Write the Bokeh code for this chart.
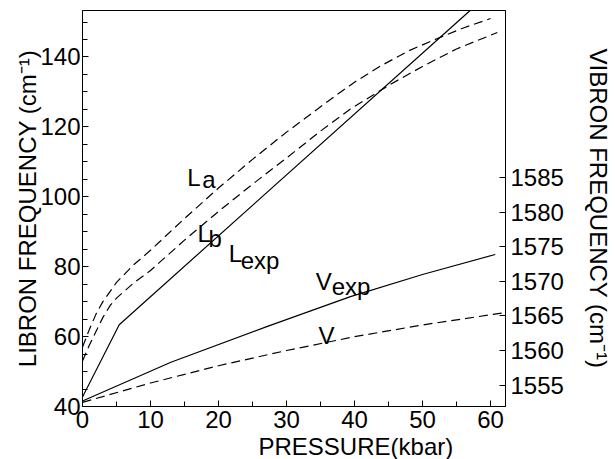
from bokeh.plotting import figure
from bokeh.models import Range1d, LinearAxis, FixedTicker, SingleIntervalTicker, Title
from bokeh.embed import file_html
from bokeh.resources import INLINE
from bokeh.core.properties import value

# ---- data ----
x_ticks = [0, 10, 20, 30, 40, 50, 60]
libron_ticks = [40, 60, 80, 100, 120, 140]
vibron_ticks = [1555, 1560, 1565, 1570, 1575, 1580, 1585]

lexp_p = [0.0, 5.4, 57.0]
lexp_f = [42.7, 63.4, 153.3]

la_p = [0, 1, 2, 3, 5, 7.5, 10, 15, 20, 25, 30, 36, 40, 43.8, 48, 52.2, 56, 60]
la_f = [57, 62, 66.5, 70, 75.5, 80.5, 84.7, 93.8, 102.5, 110.7, 118.5, 127.2,
        132.8, 137.4, 141.8, 145.3, 148.3, 151]

lb_p = [0, 1, 2, 3, 4.1, 5, 7.5, 10, 15, 20, 25, 30, 35, 39.4, 45.3, 50, 55, 61]
lb_f = [53, 57.5, 61.5, 65.5, 69, 71, 75.3, 78.9, 87.6, 95.8, 103.6, 111.1,
        118.8, 125.1, 132.2, 137.3, 142.3, 147]

vexp_p = [0.0, 13.0, 27.2, 39.4, 50.0, 60.7]
vexp_f = [1552.7, 1558.3, 1563.5, 1567.8, 1571.0, 1573.9]

v_p = [0, 10, 20, 30, 40, 50, 62.2]
v_f = [1552.5, 1555.3, 1557.8, 1560.0, 1562.0, 1563.7, 1565.5]

FONT = "Liberation Sans"
FS = "24px"

p = figure(width=615, height=459, output_backend="svg", toolbar_location=None,
           x_range=Range1d(0, 62.2), y_range=Range1d(40, 153.3),
           min_border_left=82, min_border_right=110, min_border_top=10,
           min_border_bottom=0)
p.extra_y_ranges = {"v": Range1d(1551.9, 1609.2)}
p.xgrid.visible = False
p.ygrid.visible = False
p.outline_line_color = "black"
p.outline_line_width = 1
p.background_fill_color = "white"
p.border_fill_color = "white"

xa = p.xaxis[0]
xa.ticker = SingleIntervalTicker(interval=10, num_minor_ticks=2)
ya = p.yaxis[0]
ya.ticker = SingleIntervalTicker(interval=20, num_minor_ticks=4)
ya.axis_label = "LIBRON FREQUENCY (cm\u207b\u00b9)"

ra = LinearAxis(y_range_name="v",
                ticker=FixedTicker(ticks=vibron_ticks, minor_ticks=[]),
                axis_label="VIBRON FREQUENCY (cm\u207b\u00b9)")
p.add_layout(ra, "right")

for ax in (xa, ya, ra):
    ax.axis_line_color = "black"
    ax.major_tick_line_color = "black"
    ax.minor_tick_line_color = "black"
    ax.major_tick_in = 6
    ax.major_tick_out = 0
    ax.minor_tick_in = 5
    ax.minor_tick_out = 0
    ax.major_label_text_font = FONT
    ax.major_label_text_font_size = FS
    ax.major_label_text_color = "black"
    ax.axis_label_text_font = FONT
    ax.axis_label_text_font_size = FS
    ax.axis_label_text_font_style = "normal"
    ax.axis_label_text_color = "black"

xa.major_label_standoff = 4
ya.major_label_standoff = 2
ya.axis_label_standoff = -4
ra.major_label_standoff = 5
ra.axis_label_standoff = 18

# x-axis title, set right of centre as in the reference
p.add_layout(Title(text="PRESSURE(kbar)", align="left", offset=176,
                   text_font=FONT, text_font_size=FS, text_font_style="normal",
                   text_color="black", standoff=0), "below")

# curves
DASH = "9 5"
p.line(lexp_p, lexp_f, line_color="black", line_width=1.2)
p.line(la_p, la_f, line_color="black", line_width=1.2, line_dash=DASH)
p.line(lb_p, lb_f, line_color="black", line_width=1.2, line_dash=DASH)
p.line(vexp_p, vexp_f, line_color="black", line_width=1.2, y_range_name="v")
p.line(v_p, v_f, line_color="black", line_width=1.2, line_dash=DASH, y_range_name="v")

def tag(x, y, main, sub, sub_dx, sub_dy, rng="default"):
    kw = dict(text_font=value(FONT), text_font_size=FS, text_color="black",
              text_baseline="alphabetic", text_align="left")
    if rng != "default":
        kw["y_range_name"] = rng
    p.text(x=[x], y=[y], text=[main], **kw)
    if sub:
        p.text(x=[x], y=[y], text=[sub], x_offset=sub_dx, y_offset=sub_dy, **kw)

tag(15.4, 105.5, "L", "a", 15, 2)
tag(16.9, 89.6, "L", "b", 11, 5)
tag(21.5, 83.8, "L", "exp", 12, 7)
tag(34.3, 1570.0, "V", "exp", 16, 5, "v")
tag(34.7, 1562.2, "V", "", 0, 0, "v")

open("out.html", "w").write(file_html(p, INLINE))
